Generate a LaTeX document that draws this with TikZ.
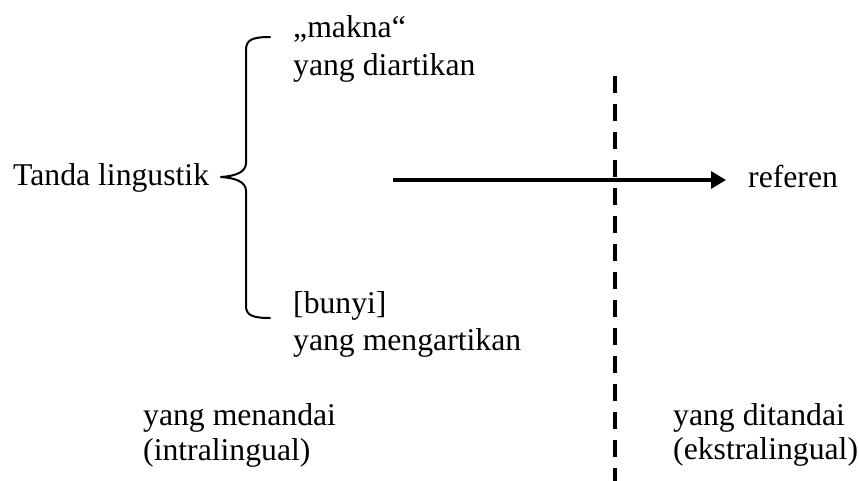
\documentclass[tikz,border=0pt]{standalone}
\usepackage{fontspec}
\setmainfont{Liberation Serif}
\usetikzlibrary{arrows.meta}
\begin{document}
\begin{tikzpicture}[x=1pt,y=-1pt,
  lbl/.style={anchor=base west,inner sep=0pt,font=\fontsize{31.7}{38}\selectfont},
  bracel/.style={line width=2pt,line cap=round,line join=round},
  divider/.style={line width=3.6pt,dash pattern=on 17pt off 11pt},
  conn/.style={line width=3.3pt,-{Triangle[length=15pt,width=17pt]}}]
\useasboundingbox[fill=white] (0,0) rectangle (859,480);
\node[lbl] (tanda) at (13,185) {Tanda lingustik};
\node[lbl] (makna) at (293,37) {„makna“};
\node[lbl] (diart) at (293,75) {yang diartikan};
\node[lbl] (bunyi) at (293,313) {[bunyi]};
\node[lbl] (mengart) at (293,350) {yang mengartikan};
\node[lbl] (menandai) at (143,425) {yang menandai};
\node[lbl] (intra) at (143,460) {(intralingual)};
\node[lbl] (ditandai) at (673,425) {yang ditandai};
\node[lbl] (ekstra) at (673,459) {(ekstralingual)};
\node[lbl] (referen) at (748,187) {referen};
% brace
\coordinate (bt) at (270,37);
\coordinate (bm) at (221,177);
\coordinate (bb) at (270,318);
\draw[bracel] (bt) .. controls (252,37) and (246,40) .. (246,50) -- (246,163)
  .. controls (246,172) and (236,176) .. (bm)
  .. controls (236,178) and (246,182) .. (246,191) -- (246,306)
  .. controls (246,315) and (252,318) .. (bb);
% divider
\coordinate (dtop) at (615,76);
\coordinate (dbot) at (615,482);
\draw[divider] (dtop) -- (dbot);
% arrow
\coordinate (arrS) at (393,180);
\coordinate (arrE) at (726,180);
\draw[conn] (arrS) -- (arrE);
\end{tikzpicture}
\end{document}
